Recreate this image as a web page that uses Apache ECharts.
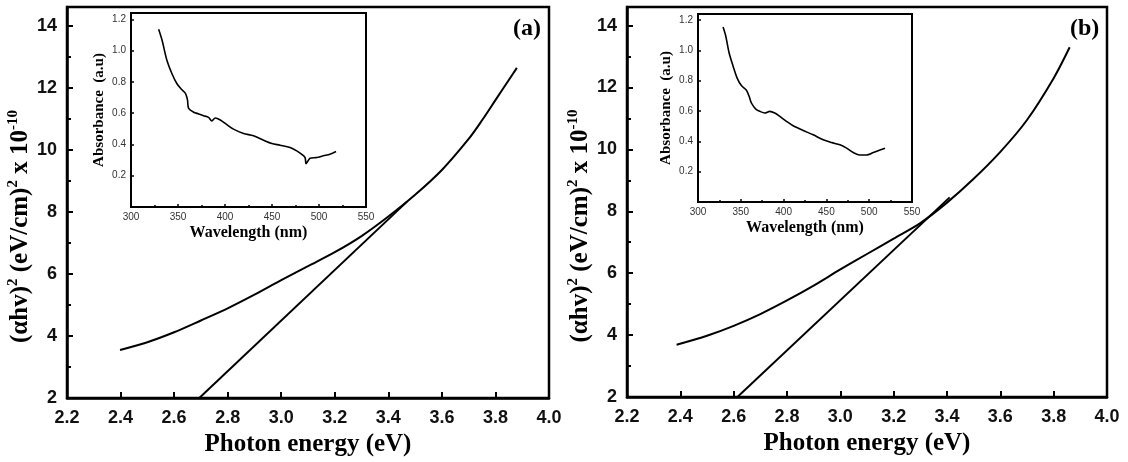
<!DOCTYPE html>
<html>
<head>
<meta charset="utf-8">
<script src="https://cdn.jsdelivr.net/npm/echarts@6/dist/echarts.min.js"></script>
<style>
  html, body { margin: 0; padding: 0; background: #fff; }
  #chart { width: 1128px; height: 462px; }
</style>
</head>
<body>
<div id="chart"></div>
<script>
// ---- panel (a): Tauc plot ----
var energyA = [2.398, 2.5, 2.6, 2.7, 2.8, 2.9, 3.0, 3.1, 3.2, 3.3, 3.4, 3.5, 3.6, 3.7, 3.75, 3.8, 3.85, 3.88];
var taucA   = [3.55, 3.80, 4.12, 4.50, 4.89, 5.33, 5.80, 6.25, 6.70, 7.22, 7.85, 8.55, 9.35, 10.35, 10.95, 11.60, 12.25, 12.64];
var fitA    = [[2.694, 2], [3.47, 8.33]];

// ---- panel (b): Tauc plot ----
var energyB = [2.386, 2.5, 2.6, 2.7, 2.8, 2.9, 3.0, 3.1, 3.2, 3.3, 3.4, 3.5, 3.6, 3.7, 3.8, 3.86];
var taucB   = [3.69, 3.98, 4.30, 4.68, 5.12, 5.60, 6.12, 6.62, 7.12, 7.62, 8.28, 9.05, 9.92, 10.95, 12.30, 13.30];
var fitB    = [[2.614, 2], [3.41, 8.45]];

// ---- insets: absorbance spectra ----
var waveA = [329.4, 333, 338.2, 343.6, 348.9, 354.2, 357.7, 359.5, 360.2, 361.3, 366.6, 372, 377, 382.5, 386, 389.6, 395, 402, 409, 419.7, 430.3, 441, 449.8, 458.6, 469.3, 476.3, 481.7, 485.2, 486.3, 490.5, 497.6, 504.7, 511.7, 518.1];
var absA  = [1.136, 1.067, 0.938, 0.852, 0.788, 0.749, 0.728, 0.70, 0.68, 0.63, 0.606, 0.595, 0.584, 0.573, 0.55, 0.569, 0.556, 0.526, 0.498, 0.47, 0.455, 0.427, 0.406, 0.395, 0.38, 0.359, 0.337, 0.316, 0.277, 0.312, 0.316, 0.327, 0.337, 0.355];

var waveB = [329.3, 332.4, 336.3, 341, 345.6, 350.7, 356.6, 359.7, 362.4, 367.5, 372.2, 378, 383.9, 389.7, 395.6, 403.4, 411.2, 422.9, 434.6, 446.3, 456, 465.8, 473.6, 481.4, 489.2, 497, 504.8, 512.6, 518.4];
var absB  = [1.154, 1.095, 0.984, 0.896, 0.819, 0.768, 0.737, 0.697, 0.653, 0.613, 0.598, 0.587, 0.598, 0.587, 0.565, 0.532, 0.503, 0.472, 0.443, 0.41, 0.392, 0.377, 0.355, 0.326, 0.31, 0.31, 0.326, 0.343, 0.355];

function pairs(xs, ys) {
	var out = [];
	for (var i = 0; i < xs.length; i++) out.push([xs[i], ys[i]]);
	return out;
}

var serif = '"Liberation Serif", "Times New Roman", serif';
var sans = '"Liberation Sans", Arial, sans-serif';

var yName = '{a|(αhv)}{s|2}{a| (eV/cm)}{s|2}{a| x 10}{s|-10}';
var yNameRich = {
	a: { fontFamily: serif, fontWeight: 'bold', fontSize: 25, lineHeight: 30, color: '#000' },
	s: { fontFamily: serif, fontWeight: 'bold', fontSize: 15, verticalAlign: 'top', color: '#000' }
};

function mainX(idx) {
	return {
		type: 'value', gridIndex: idx, min: 2.2, max: 4.0, interval: 0.2,
		name: 'Photon energy (eV)', nameLocation: 'middle', nameGap: 33,
		nameTextStyle: { fontFamily: serif, fontWeight: 'bold', fontSize: 25, color: '#000' },
		axisLine: { lineStyle: { color: '#000', width: 2.5 } },
		axisTick: { inside: true, length: 6, lineStyle: { color: '#000', width: 2 } },
		axisLabel: { fontFamily: sans, fontWeight: 'bold', fontSize: 18, color: '#111', margin: 11,
			formatter: function (v) { return v.toFixed(1); } },
		splitLine: { show: false }
	};
}
function mainY(idx) {
	return {
		type: 'value', gridIndex: idx, min: 2, max: 14.6, interval: 2,
		name: yName, nameLocation: 'middle', nameGap: 30, nameRotate: 90,
		nameTextStyle: { rich: yNameRich, padding: [0, 48, 0, 0] },
		axisLine: { lineStyle: { color: '#000', width: 2.5 } },
		axisTick: { inside: true, length: 6, lineStyle: { color: '#000', width: 2 } },
		minorTick: { show: true, splitNumber: 2, length: 4, lineStyle: { color: '#000', width: 2 } },
		axisLabel: { fontFamily: sans, fontWeight: 'bold', fontSize: 18, color: '#111', margin: 10,
			formatter: function (v) { return v % 2 === 0 ? String(v) : ''; } },
		splitLine: { show: false }
	};
}
function insetX(idx) {
	return {
		type: 'value', gridIndex: idx, min: 300, max: 550, interval: 50,
		name: 'Wavelength (nm)', nameLocation: 'middle', nameGap: 18,
		nameTextStyle: { fontFamily: serif, fontWeight: 'bold', fontSize: 16, color: '#000' },
		axisLine: { lineStyle: { color: '#000', width: 2 } },
		axisTick: { inside: true, length: 3, lineStyle: { color: '#000', width: 1.5 } },
		minorTick: { show: true, splitNumber: 2, length: 2, lineStyle: { color: '#000', width: 1.5 } },
		axisLabel: { fontFamily: sans, fontSize: 10, color: '#333', margin: 5 },
		splitLine: { show: false },
		z: 12
	};
}
function insetY(idx) {
	return {
		type: 'value', gridIndex: idx, min: 0, max: 1.24, interval: 0.2,
		name: 'Absorbance  (a.u)', nameLocation: 'middle', nameGap: 24, nameRotate: 90,
		nameTextStyle: { fontFamily: serif, fontWeight: 'bold', fontSize: 15, color: '#000' },
		axisLine: { lineStyle: { color: '#000', width: 2 } },
		axisTick: { inside: true, length: 3, lineStyle: { color: '#000', width: 1.5 } },
		axisLabel: { fontFamily: sans, fontSize: 10, color: '#333', margin: 5,
			formatter: function (v) {
				var k = Math.round(v * 5);
				if (k === 0 || Math.abs(v * 5 - k) > 1e-6) return '';
				return v.toFixed(1);
			} },
		splitLine: { show: false },
		z: 12
	};
}

function curve(x, y, data, w, z) {
	return {
		type: 'line', xAxisIndex: x, yAxisIndex: y, data: data,
		showSymbol: false, smooth: 0.3, silent: true, z: z,
		lineStyle: { color: '#000', width: w }
	};
}

var chart = echarts.init(document.getElementById('chart'));
chart.setOption({
	animation: false,
	backgroundColor: '#fff',
	title: [
		{ text: '(a)', left: 508, top: 12, textStyle: { fontFamily: serif, fontWeight: 'bold', fontSize: 24, color: '#000' } },
		{ text: '(b)', left: 1065, top: 12, textStyle: { fontFamily: serif, fontWeight: 'bold', fontSize: 24, color: '#000' } }
	],
	grid: [
		{ left: 67, top: 7, width: 482, height: 393, show: true, borderColor: '#000', borderWidth: 2.5 },
		{ left: 627, top: 7, width: 480, height: 390, show: true, borderColor: '#000', borderWidth: 2.5 },
		{ left: 131, top: 13, width: 235, height: 194, show: true, borderColor: '#000', borderWidth: 2, backgroundColor: '#fff', z: 5 },
		{ left: 698, top: 14, width: 214, height: 188, show: true, borderColor: '#000', borderWidth: 2, backgroundColor: '#fff', z: 5 }
	],
	xAxis: [mainX(0), mainX(1), insetX(2), insetX(3)],
	yAxis: [mainY(0), mainY(1), insetY(2), insetY(3)],
	series: [
		curve(0, 0, pairs(energyA, taucA), 2, 2),
		curve(0, 0, fitA, 2, 2),
		curve(1, 1, pairs(energyB, taucB), 2, 2),
		curve(1, 1, fitB, 2, 2),
		curve(2, 2, pairs(waveA, absA), 1.6, 10),
		curve(3, 3, pairs(waveB, absB), 1.6, 10)
	]
});
</script>
</body>
</html>
